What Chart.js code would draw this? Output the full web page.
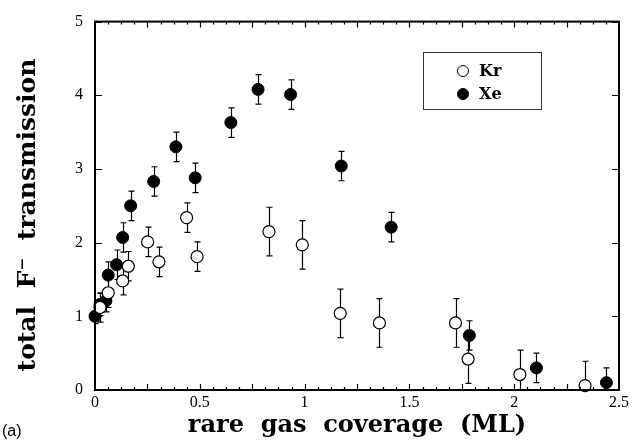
<!DOCTYPE html>
<html>
<head>
<meta charset="utf-8">
<script src="https://cdn.jsdelivr.net/npm/chart.js@4"></script>
<style>
html,body{margin:0;padding:0;background:#fff;}
canvas{display:block;}
</style>
</head>
<body>
<canvas id="c" width="633" height="444"></canvas>
<script>
// coverage (ML), transmission and error for each gas
const krX = [0.024, 0.063, 0.132, 0.159, 0.251, 0.305, 0.437, 0.487, 0.83, 0.989, 1.17, 1.357, 1.72, 1.78, 2.027, 2.338];
const krY = [1.12, 1.32, 1.48, 1.68, 2.01, 1.74, 2.34, 1.81, 2.15, 1.97, 1.04, 0.91, 0.91, 0.42, 0.21, 0.06];
const krErr = [0.2, 0.2, 0.19, 0.2, 0.2, 0.2, 0.2, 0.2, 0.33, 0.33, 0.33, 0.33, 0.33, 0.33, 0.33, 0.33];

const xeX = [0, 0.024, 0.052, 0.063, 0.103, 0.132, 0.17, 0.28, 0.386, 0.478, 0.648, 0.778, 0.933, 1.175, 1.413, 1.786, 2.106, 2.44];
const xeY = [1.00, 1.16, 1.21, 1.56, 1.70, 2.07, 2.50, 2.83, 3.30, 2.88, 3.63, 4.08, 4.01, 3.04, 2.21, 0.74, 0.30, 0.10];
const xeErr = [0.1, 0.15, 0.15, 0.18, 0.2, 0.2, 0.2, 0.2, 0.2, 0.2, 0.2, 0.2, 0.2, 0.2, 0.2, 0.2, 0.2, 0.2];

const xLabels = [0, 0.5, 1, 1.5, 2, 2.5];
const yLabels = [0, 1, 2, 3, 4, 5];

const serif = "'Liberation Serif', 'Times New Roman', serif";

// error bars, frame, inward ticks, axis titles and the boxed legend
const deco = {
  id: 'deco',
  beforeDatasetsDraw(chart) {
    const ctx = chart.ctx, xs = chart.scales.x, ys = chart.scales.y, a = chart.chartArea;
    ctx.save();
    ctx.beginPath();
    ctx.rect(a.left, a.top, a.right - a.left, a.bottom - a.top);
    ctx.clip();
    ctx.strokeStyle = '#000';
    ctx.lineWidth = 1.2;
    chart.data.datasets.forEach(ds => {
      ds.data.forEach((p, j) => {
        const e = ds.err[j];
        const px = Math.round(xs.getPixelForValue(p.x)) + 0.5;
        const t = ys.getPixelForValue(p.y + e);
        const b = ys.getPixelForValue(p.y - e);
        ctx.beginPath();
        ctx.moveTo(px, t); ctx.lineTo(px, b);
        ctx.moveTo(px - 3, t); ctx.lineTo(px + 3, t);
        ctx.moveTo(px - 3, b); ctx.lineTo(px + 3, b);
        ctx.stroke();
      });
    });
    ctx.restore();
  },
  afterDraw(chart) {
    const ctx = chart.ctx, xs = chart.scales.x, ys = chart.scales.y, a = chart.chartArea;
    ctx.save();
    ctx.strokeStyle = '#000';

    // minor ticks every 1/16 ML, longer every 0.25
    ctx.lineWidth = 1.2;
    ctx.beginPath();
    for (let k = 1; k < 40; k++) {
      const px = Math.round(xs.getPixelForValue(k / 16)) + 0.5;
      const len = k % 4 === 0 ? 6 : 3;
      ctx.moveTo(px, a.bottom); ctx.lineTo(px, a.bottom - len);
      ctx.moveTo(px, a.top); ctx.lineTo(px, a.top + len);
    }
    yLabels.forEach(v => {
      const py = Math.round(ys.getPixelForValue(v)) + 0.5;
      ctx.moveTo(a.left, py); ctx.lineTo(a.left + 7, py);
      ctx.moveTo(a.right, py); ctx.lineTo(a.right - 7, py);
    });
    ctx.stroke();

    ctx.lineWidth = 2;
    ctx.strokeRect(a.left, a.top, a.right - a.left, a.bottom - a.top);

    // axis titles
    ctx.fillStyle = '#000';
    ctx.font = "bold 24px 'DejaVu Serif', serif";
    ctx.textAlign = 'center';
    ctx.textBaseline = 'alphabetic';
    ctx.fillText('rare  gas  coverage  (ML)', (a.left + a.right) / 2, 432);
    ctx.save();
    ctx.translate(35, 215);
    ctx.rotate(-Math.PI / 2);
    ctx.font = "bold 25px 'DejaVu Serif', serif";
    ctx.fillText('total  F\u207B  transmission', 0, 0);
    ctx.restore();

    ctx.font = "16px 'Liberation Sans', Arial, sans-serif";
    ctx.textAlign = 'left';
    ctx.fillText('(a)', 2, 436);

    // legend
    ctx.lineWidth = 1;
    ctx.strokeStyle = '#333';
    ctx.strokeRect(423.5, 52.5, 118, 57);
    ctx.font = "bold 16px 'DejaVu Serif', serif";
    ctx.textBaseline = 'middle';
    chart.data.datasets.forEach((ds, i) => {
      const cy = 71 + i * 23;
      ctx.beginPath();
      ctx.arc(463, cy, 5.5, 0, Math.PI * 2);
      ctx.fillStyle = ds.backgroundColor;
      ctx.fill();
      ctx.strokeStyle = '#000';
      ctx.lineWidth = 1;
      ctx.stroke();
      ctx.fillStyle = '#000';
      ctx.fillText(ds.label, 479, cy + 1);
    });
    ctx.restore();
  }
};

new Chart(document.getElementById('c'), {
  type: 'scatter',
  data: {
    datasets: [
      {
        label: 'Kr',
        data: krX.map((x, i) => ({ x, y: krY[i] })),
        err: krErr,
        backgroundColor: '#fff',
        borderColor: '#000',
        borderWidth: 1.2,
        pointRadius: 6,
        pointHoverRadius: 6
      },
      {
        label: 'Xe',
        data: xeX.map((x, i) => ({ x, y: xeY[i] })),
        err: xeErr,
        backgroundColor: '#000',
        borderColor: '#000',
        borderWidth: 1,
        pointRadius: 6,
        pointHoverRadius: 6
      }
    ]
  },
  options: {
    responsive: false,
    animation: false,
    devicePixelRatio: 1,
    clip: false,
    layout: { padding: { top: 15, right: 14, left: 0, bottom: 0 } },
    plugins: { legend: { display: false }, tooltip: { enabled: false } },
    scales: {
      x: {
        type: 'linear',
        min: 0,
        max: 2.5,
        afterBuildTicks: s => { s.ticks = xLabels.map(v => ({ value: v })); },
        afterFit: s => { s.height = 54; },
        grid: { display: false, drawTicks: false },
        border: { display: false },
        ticks: {
          autoSkip: false,
          maxRotation: 0,
          padding: 3,
          color: '#000',
          font: { family: serif, size: 16 },
          callback: v => String(v)
        }
      },
      y: {
        min: 0,
        max: 5,
        afterBuildTicks: s => { s.ticks = yLabels.map(v => ({ value: v })); },
        afterFit: s => { s.width = 95; },
        grid: { display: false, drawTicks: false },
        border: { display: false },
        ticks: {
          padding: 12,
          color: '#000',
          font: { family: serif, size: 16 },
          callback: v => String(v)
        }
      }
    }
  },
  plugins: [deco]
});
</script>
</body>
</html>
